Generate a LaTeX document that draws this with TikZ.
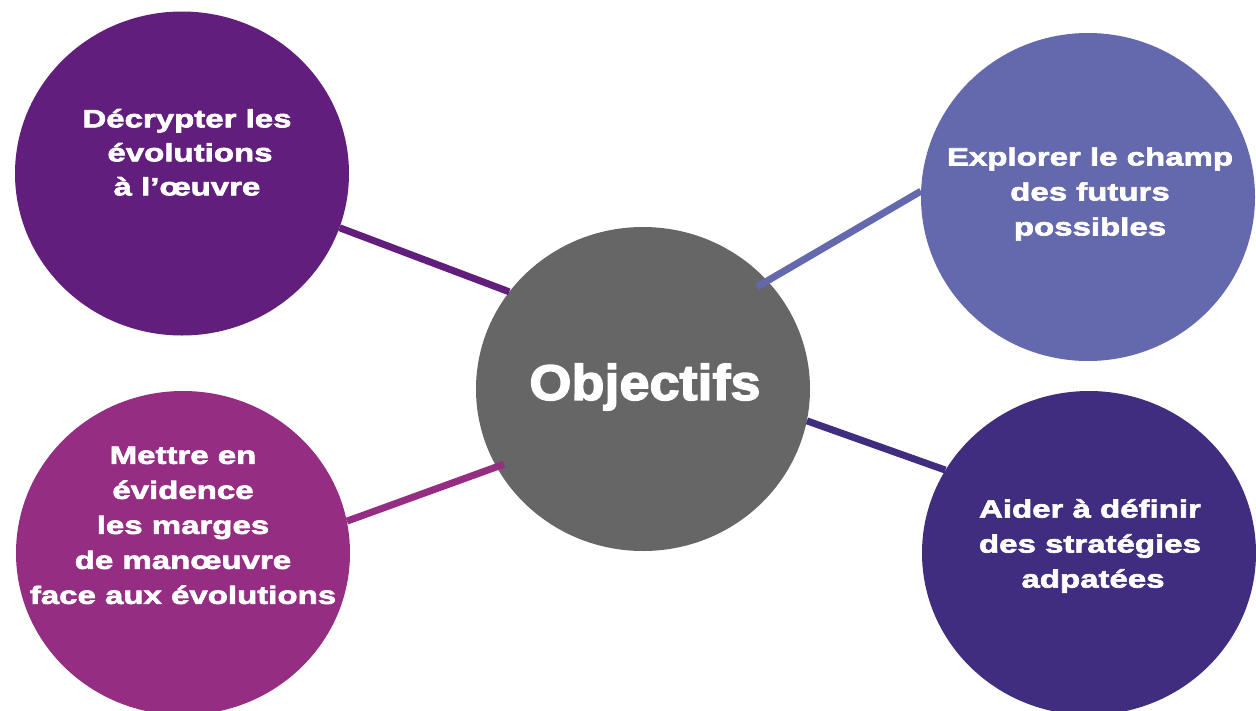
\documentclass[tikz,border=0pt]{standalone}
\usepackage{fontspec}
\setmainfont{Liberation Sans}
\newfontfamily\blk{Liberation Sans}[FakeStretch=1.32,FakeBold=2.6]
\newfontfamily\blkc{Liberation Sans}[FakeStretch=1.08,FakeBold=3]
\usetikzlibrary{shapes.geometric}
\definecolor{cTL}{HTML}{621E7C}
\definecolor{cTR}{HTML}{6468AC}
\definecolor{cBL}{HTML}{952D83}
\definecolor{cBR}{HTML}{402D80}
\definecolor{cC}{HTML}{666666}
\tikzset{
  bubble/.style={ellipse, inner sep=0pt, draw=none, minimum width=334pt, minimum height=324pt},
  txt/.style={text=white, align=center, font=\blk\bfseries\fontsize{25}{35}\selectfont, inner sep=0pt},
  link/.style={line width=7pt, line cap=butt},
}
\begin{document}
\begin{tikzpicture}[x=1pt,y=-1pt]
\useasboundingbox (0,0) rectangle (1256,710);
\clip (0,0) rectangle (1256,710);
\fill[white] (0,0) rectangle (1256,710);
% bubbles
\node[bubble, fill=cTL] (tl) at (182,173.5) {};
\node[bubble, fill=cTR, minimum height=328pt] (tr) at (1088,197) {};
\node[bubble, fill=cBL] (bl) at (183,553) {};
\node[bubble, fill=cBR] (br) at (1089,553) {};
\node[bubble, fill=cC] (c) at (643,389) {};
% connectors
\draw[link, cTL] (tl.-19) -- (c.144);
\draw[link, cTR, shorten >=-12pt] (tr.178) -- (c.41);
\draw[link, cBL, shorten >=-8pt] (bl.11) -- (c.208);
\draw[link, cBR] (c.-11) -- (br.150.6);
% texts
\node[txt, font=\blk\bfseries\fontsize{25}{34}\selectfont] (tltxt) at (187,152.3) {Décrypter les\\\hspace*{6pt}évolutions\\à l’œuvre};
\node[txt] (trtxt) at (1090,194) {Explorer le champ\\des futurs\\possibles};
\node[txt] (bltxt) at (183,525.4) {Mettre en\\évidence\\les marges\\de manœuvre\\face aux évolutions};
\node[txt] (brtxt) at (1090,546) {Aider à définir\\des stratégies\\\hspace*{6pt}adpatées};
\node[text=white, inner sep=0pt, font=\blkc\bfseries\fontsize{50}{60}\selectfont] (ctxt) at (645,387) {Objectifs};
\end{tikzpicture}
\end{document}
